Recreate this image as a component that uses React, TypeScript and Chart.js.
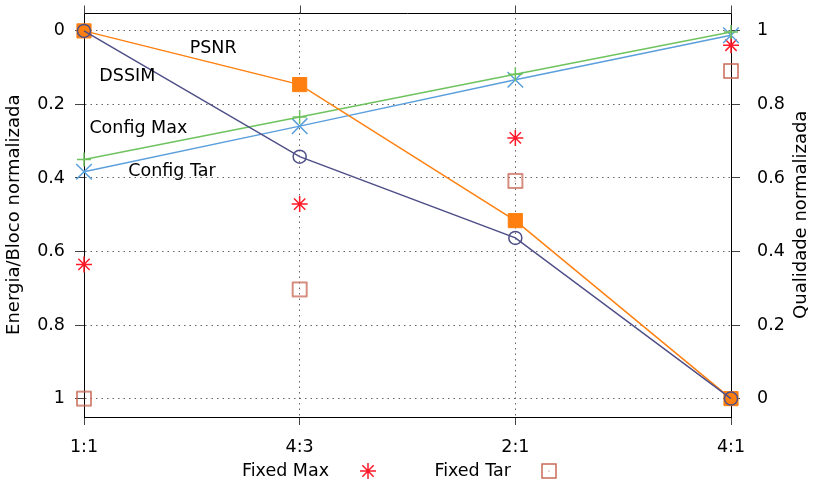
import React, { useEffect, useRef } from 'react';
import { Chart, registerables } from 'chart.js';
Chart.register(...registerables);

// ---- data ----
const categories = ['1:1', '4:3', '2:1', '4:1'];
// quality (right axis)
const psnr = [1, 0.854, 0.484, 0];
const dssim = [1, 0.658, 0.437, 0];
// energy (left axis, reversed)
const configMax = [0.35, 0.234, 0.118, 0.003];
const configTar = [0.383, 0.259, 0.133, 0.012];
const fixedMax = [0.635, 0.471, 0.291, 0.039];
const fixedTar = [1.0, 0.703, 0.408, 0.109];
const yTicks = [0, 0.2, 0.4, 0.6, 0.8, 1];
const leftTitle = 'Energia/Bloco normalizada';
const rightTitle = 'Qualidade normalizada';
// in-plot series labels: [text, category index, left-axis value]
const lineLabels: [string, number, number][] = [
  ['PSNR', 0.49, 0.049],
  ['DSSIM', 0.071, 0.124],
  ['Config Max', 0.025, 0.265],
  ['Config Tar', 0.205, 0.381],
];
const legendNames = ['Fixed Max', 'Fixed Tar'];

const FONT = '"DejaVu Sans", "Liberation Sans", sans-serif';
const FS = 17.5;
const C_PSNR = '#ff8010';
const C_DSSIM = '#4f4f88';
const C_CMAX = '#6fc35f';
const C_CTAR = '#5a9fdc';
const C_FMAX = '#ff1a2a';
const C_FTAR = '#c96a58';

function makeSquareDot(color: string) {
  const c = document.createElement('canvas');
  c.width = 18;
  c.height = 18;
  const g = c.getContext('2d')!;
  g.strokeStyle = color;
  g.lineWidth = 1.5;
  g.strokeRect(2, 2, 14, 14);
  g.fillStyle = color;
  g.fillRect(8.5, 8.5, 1, 1);
  return c;
}

function drawStar(ctx: CanvasRenderingContext2D, x: number, y: number, r: number, color: string) {
  const d = r * Math.SQRT1_2;
  ctx.save();
  ctx.strokeStyle = color;
  ctx.lineWidth = 1.5;
  ctx.beginPath();
  ctx.moveTo(x - r, y); ctx.lineTo(x + r, y);
  ctx.moveTo(x, y - r); ctx.lineTo(x, y + r);
  ctx.moveTo(x - d, y - d); ctx.lineTo(x + d, y + d);
  ctx.moveTo(x - d, y + d); ctx.lineTo(x + d, y - d);
  ctx.stroke();
  ctx.restore();
}

export default function App() {
  const ref = useRef<HTMLCanvasElement>(null);
  useEffect(() => {
    const sq = makeSquareDot(C_FTAR);
    const framePlugin = {
      id: 'frame',
      afterDraw(chart: any) {
        const { ctx, chartArea, scales } = chart;
        const { left, right, top, bottom } = chartArea;
        ctx.save();
        ctx.strokeStyle = '#000';
        ctx.lineWidth = 1;
        const ty = Math.round(top) + 0.5;
        ctx.beginPath();
        ctx.moveTo(left, ty);
        ctx.lineTo(right + 0.5, ty);
        ctx.stroke();
        ctx.strokeStyle = '#444';
        categories.forEach((_, i) => {
          const x = Math.round(scales.x.getPixelForValue(i)) + 0.5;
          ctx.beginPath();
          ctx.moveTo(x, ty);
          ctx.lineTo(x, ty - 8);
          ctx.stroke();
        });
        ctx.fillStyle = '#000';
        ctx.font = `${FS}px ${FONT}`;
        ctx.textBaseline = 'middle';
        ctx.textAlign = 'left';
        lineLabels.forEach(([t, xi, v]) => {
          ctx.fillText(t, scales.x.getPixelForValue(xi), scales.y.getPixelForValue(v));
        });
        // right axis title, reading bottom-to-top
        ctx.save();
        ctx.font = `18px ${FONT}`;
        ctx.textAlign = 'center';
        ctx.translate(801, (top + bottom) / 2);
        ctx.rotate(-Math.PI / 2);
        ctx.fillText(rightTitle, 0, 0);
        ctx.restore();
        // key
        ctx.textAlign = 'right';
        const ky = 471;
        ctx.fillText(legendNames[0], 329, ky);
        drawStar(ctx, 368, ky, 8, C_FMAX);
        ctx.fillText(legendNames[1], 511, ky);
        ctx.drawImage(sq, 549 - sq.width / 2, ky - sq.height / 2);
        ctx.restore();
      },
    };

    const tickFont = { family: FONT, size: FS };
    const noPad = (s: any) => { s.paddingTop = 0; s.paddingBottom = 0; s.paddingLeft = 0; s.paddingRight = 0; };
    const chart = new Chart(ref.current!, {
      type: 'line',
      data: {
        labels: categories,
        datasets: [
          {
            label: 'DSSIM', data: dssim, yAxisID: 'y2', borderColor: C_DSSIM,
            backgroundColor: 'rgba(0,0,0,0)', pointStyle: 'circle', pointRadius: 6.5,
            pointBorderWidth: 1.5, borderWidth: 1.5, order: 0, clip: false as any,
          },
          {
            label: 'PSNR', data: psnr, yAxisID: 'y2', borderColor: C_PSNR,
            backgroundColor: C_PSNR, pointStyle: 'rect', pointRadius: 10,
            pointBorderWidth: 1, borderWidth: 1.5, order: 1, clip: false as any,
          },
          {
            label: 'Config Max', data: configMax, yAxisID: 'y', borderColor: C_CMAX,
            backgroundColor: C_CMAX, pointStyle: 'cross', pointRadius: 7,
            pointBorderWidth: 1.5, borderWidth: 1.5, order: 2, clip: false as any,
          },
          {
            label: 'Config Tar', data: configTar, yAxisID: 'y', borderColor: C_CTAR,
            backgroundColor: C_CTAR, pointStyle: 'crossRot', pointRadius: 11,
            pointBorderWidth: 1.5, borderWidth: 1.5, order: 3, clip: false as any,
          },
          {
            label: 'Fixed Max', data: fixedMax, yAxisID: 'y', borderColor: C_FMAX,
            backgroundColor: C_FMAX, pointStyle: 'star', pointRadius: 8,
            pointBorderWidth: 1.5, showLine: false, order: 4, clip: false as any,
          },
          {
            label: 'Fixed Tar', data: fixedTar, yAxisID: 'y', borderColor: C_FTAR,
            backgroundColor: C_FTAR, pointStyle: sq as any, pointRadius: 8,
            showLine: false, order: 5, clip: false as any,
          },
        ],
      },
      options: {
        animation: false,
        responsive: false,
        events: [],
        layout: { padding: { top: 10, left: 0, right: 0, bottom: 0 } },
        elements: { line: { tension: 0 } },
        plugins: { legend: { display: false }, tooltip: { enabled: false } },
        scales: {
          x: {
            type: 'category',
            offset: false,
            grid: { color: '#666', lineWidth: 1, tickLength: 8, tickColor: '#444', offset: false },
            border: { display: true, color: '#000', width: 1, dash: [1.5, 4] },
            ticks: { color: '#000', font: tickFont, padding: 11.5, maxRotation: 0, autoSkip: false },
            afterFit: (s: any) => { s.height = 66; noPad(s); },
          },
          y: {
            type: 'linear',
            position: 'left',
            reverse: true,
            min: -0.05,
            max: 1.05,
            afterBuildTicks: (s: any) => { s.ticks = yTicks.map((v) => ({ value: v })); },
            ticks: {
              color: '#000', font: tickFont, padding: 10,
              callback: (v: any) => String(Math.round(Number(v) * 10) / 10),
            },
            grid: { color: '#666', lineWidth: 1, tickLength: 9, tickColor: '#444' },
            border: { display: true, color: '#000', width: 1, dash: [1.5, 4] },
            title: { display: true, text: leftTitle, color: '#000', font: { family: FONT, size: 18 }, padding: { top: 3.5, bottom: 0 } },
            afterFit: (s: any) => { s.width = 84; noPad(s); },
          },
          y2: {
            type: 'linear',
            position: 'right',
            min: -0.05,
            max: 1.05,
            afterBuildTicks: (s: any) => { s.ticks = yTicks.map((v) => ({ value: v })); },
            ticks: {
              color: '#000', font: tickFont, padding: 17,
              callback: (v: any) => String(Math.round(Number(v) * 10) / 10),
            },
            grid: { drawOnChartArea: false, tickLength: 9, tickColor: '#444' },
            border: { display: true, color: '#000', width: 1 },
            title: { display: false },
            afterFit: (s: any) => { s.width = 85; noPad(s); },
          },
        },
      } as any,
      plugins: [framePlugin],
    });
    return () => chart.destroy();
  }, []);
  return (
    <div style={{ position: 'fixed', left: 0, top: 0, width: 816, height: 483, background: '#fff' }}>
      <canvas ref={ref} width={816} height={483} />
    </div>
  );
}
